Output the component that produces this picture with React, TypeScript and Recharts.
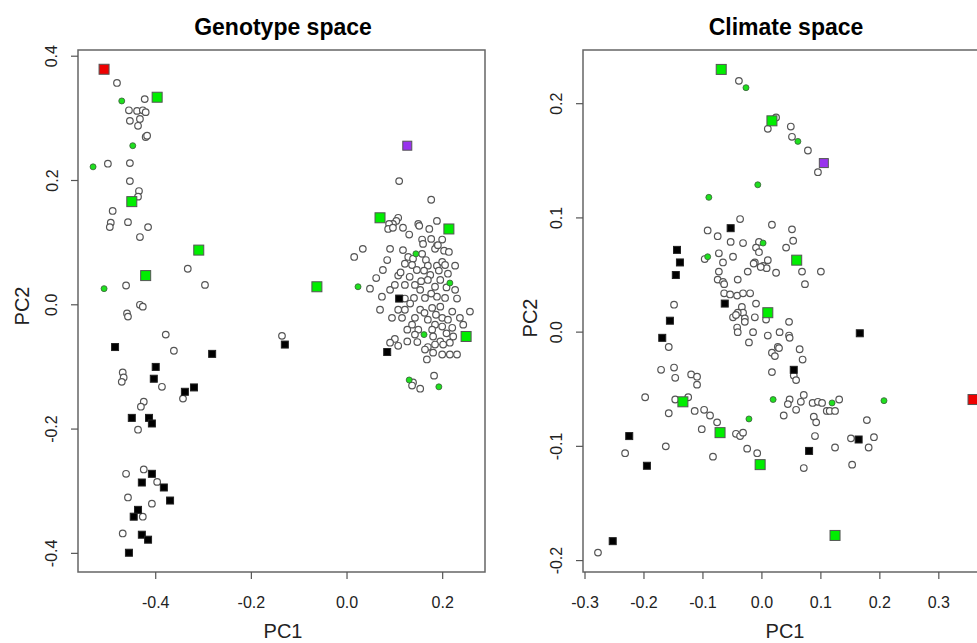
import React from "react";
import { ScatterChart, Scatter, XAxis, YAxis, ReferenceArea } from "recharts";

type P = [number, number];

// Genotype space (left panel)
const genoCircles: P[] = [
  [-0.481, 0.357], [-0.423, 0.331], [-0.456, 0.313], [-0.439, 0.312], [-0.427, 0.313], [-0.421, 0.31],
  [-0.454, 0.296], [-0.433, 0.299], [-0.437, 0.288], [-0.421, 0.27], [-0.418, 0.272], [-0.5, 0.227],
  [-0.454, 0.228], [-0.454, 0.199], [-0.435, 0.183], [-0.437, 0.174], [-0.49, 0.151], [-0.494, 0.132],
  [-0.496, 0.125], [-0.458, 0.133], [-0.416, 0.125], [-0.433, 0.109], [-0.333, 0.058], [-0.297, 0.032],
  [-0.462, 0.031], [-0.433, 0.0], [-0.427, -0.003], [-0.46, -0.014], [-0.458, -0.019], [-0.379, -0.048],
  [-0.362, -0.074], [-0.469, -0.109], [-0.467, -0.117], [-0.471, -0.124], [-0.387, -0.132], [-0.343, -0.151],
  [-0.425, -0.156], [-0.431, -0.164], [-0.437, -0.201], [-0.462, -0.272], [-0.425, -0.265], [-0.397, -0.285],
  [-0.458, -0.31], [-0.408, -0.32], [-0.427, -0.341], [-0.469, -0.368],
  [0.109, 0.199], [0.176, 0.169], [0.015, 0.077], [0.033, 0.09], [-0.136, -0.05], [0.138, -0.125],
  [0.153, -0.135], [0.182, -0.114], [0.136, -0.13], [0.257, -0.011],
  [0.107, 0.14], [0.103, 0.135], [0.096, 0.13], [0.088, 0.13], [0.086, 0.122], [0.096, 0.124],
  [0.117, 0.124], [0.149, 0.13], [0.151, 0.127], [0.172, 0.122], [0.188, 0.135], [0.13, 0.113],
  [0.157, 0.105], [0.159, 0.098], [0.199, 0.105], [0.188, 0.095], [0.184, 0.09], [0.19, 0.096],
  [0.09, 0.09], [0.157, 0.082], [0.203, 0.087], [0.213, 0.085], [0.128, 0.077], [0.138, 0.074],
  [0.165, 0.072], [0.084, 0.072], [0.121, 0.066], [0.136, 0.064], [0.169, 0.063], [0.188, 0.063],
  [0.199, 0.069], [0.205, 0.064], [0.226, 0.063], [0.075, 0.056], [0.146, 0.056], [0.161, 0.055],
  [0.192, 0.055], [0.211, 0.05], [0.107, 0.047], [0.061, 0.043], [0.174, 0.048],
  [0.048, 0.026], [0.073, 0.013], [0.09, 0.024], [0.1, 0.032], [0.121, 0.032], [0.142, 0.032],
  [0.153, 0.024], [0.169, 0.04], [0.195, 0.04], [0.184, 0.029], [0.226, 0.024], [0.121, 0.01],
  [0.14, 0.011], [0.163, 0.011], [0.188, 0.013], [0.205, 0.011], [0.23, 0.01], [0.069, -0.008],
  [0.107, -0.008], [0.121, -0.008], [0.153, -0.008], [0.178, -0.005], [0.195, -0.003], [0.22, -0.011],
  [0.094, -0.021], [0.115, -0.021], [0.142, -0.021], [0.169, -0.024], [0.199, -0.021], [0.211, -0.024],
  [0.236, -0.021], [0.136, -0.032], [0.184, -0.032], [0.199, -0.035], [0.243, -0.032], [0.126, -0.04],
  [0.149, -0.04], [0.178, -0.04], [0.22, -0.037], [0.142, -0.048], [0.18, -0.051], [0.195, -0.059],
  [0.222, -0.051], [0.1, -0.055], [0.09, -0.061], [0.107, -0.066], [0.126, -0.059], [0.169, -0.068],
  [0.184, -0.064], [0.201, -0.064], [0.215, -0.061], [0.163, -0.072], [0.18, -0.077], [0.199, -0.08],
  [0.215, -0.08], [0.23, -0.08], [0.167, -0.088],
  [0.112, 0.052], [0.131, 0.045], [0.155, 0.038], [0.176, 0.018], [0.132, 0.002], [0.162, -0.013],
  [0.186, -0.016], [0.208, 0.028], [0.117, 0.088], [0.176, 0.106], [0.147, -0.06], [0.208, -0.046],
];
const genoGreenDots: P[] = [
  [-0.471, 0.328], [-0.448, 0.256], [-0.531, 0.222], [-0.508, 0.026], [0.023, 0.029],
  [0.144, 0.082], [0.215, 0.035], [0.161, -0.048], [0.13, -0.121], [0.192, -0.132],
];
const genoGreenSquares: P[] = [
  [-0.397, 0.334], [-0.45, 0.166], [-0.31, 0.088], [-0.421, 0.047],
  [0.069, 0.14], [0.213, 0.122], [-0.063, 0.029], [0.249, -0.051],
];
const genoBlackSquares: P[] = [
  [-0.485, -0.068], [-0.282, -0.079], [-0.4, -0.1], [-0.404, -0.119], [-0.32, -0.133], [-0.339, -0.14],
  [-0.45, -0.182], [-0.414, -0.182], [-0.408, -0.191], [-0.408, -0.272], [-0.429, -0.286], [-0.383, -0.294],
  [-0.37, -0.315], [-0.437, -0.33], [-0.446, -0.341], [-0.429, -0.37], [-0.416, -0.378], [-0.456, -0.399],
  [-0.13, -0.064], [0.084, -0.076], [0.109, 0.01],
];
const genoRed: P[] = [[-0.508, 0.379]];
const genoPurple: P[] = [[0.126, 0.256]];

// Climate space (right panel)
const climCircles: P[] = [
  [-0.039, 0.22], [-0.037, 0.099], [-0.092, 0.089], [-0.075, 0.084], [-0.053, 0.079], [-0.032, 0.078],
  [-0.097, 0.064], [-0.073, 0.069], [-0.049, 0.066], [-0.066, 0.061], [-0.073, 0.053], [-0.024, 0.053],
  [-0.041, 0.046], [-0.075, 0.046], [-0.066, 0.044], [-0.012, 0.061],
  [0.024, 0.188], [0.01, 0.178], [0.049, 0.18], [0.051, 0.171], [0.078, 0.159], [0.095, 0.14],
  [0.017, 0.094], [0.051, 0.09], [0.053, 0.08], [0.041, 0.074], [-0.005, 0.079], [-0.01, 0.074],
  [-0.005, 0.07], [-0.014, 0.06], [0.01, 0.063], [0.002, 0.058], [0.008, 0.056], [-0.002, 0.057],
  [0.024, 0.052], [0.068, 0.053], [0.1, 0.053], [0.073, 0.042],
  [-0.064, 0.042], [-0.064, 0.034], [-0.054, 0.033], [-0.042, 0.032], [-0.032, 0.034], [-0.02, 0.034],
  [-0.01, 0.025], [-0.034, 0.022], [-0.032, 0.017], [-0.041, 0.017], [-0.049, 0.013], [-0.044, 0.015],
  [-0.029, 0.012], [-0.012, 0.013], [0.007, 0.011], [0.046, 0.009], [-0.042, 0.004],
  [-0.149, 0.024], [-0.029, 0.009], [-0.041, 0.0], [-0.015, 0.0], [-0.022, -0.009], [-0.158, -0.013],
  [-0.149, -0.031], [-0.171, -0.033], [-0.147, -0.04], [-0.12, -0.037], [-0.11, -0.039], [-0.11, -0.046],
  [-0.198, -0.057], [-0.147, -0.059], [-0.125, -0.057], [-0.158, -0.071], [-0.114, -0.069], [-0.098, -0.068],
  [-0.088, -0.073], [-0.076, -0.079], [-0.102, -0.085], [-0.044, -0.089], [-0.037, -0.091], [-0.032, -0.088],
  [-0.163, -0.1], [-0.232, -0.106], [-0.025, -0.102], [-0.008, -0.106], [-0.083, -0.109], [-0.278, -0.193],
  [0.01, -0.003], [0.03, 0.0], [0.046, -0.003], [0.047, -0.005], [0.064, -0.015], [0.017, -0.018],
  [0.022, -0.021], [0.027, -0.013], [0.029, -0.014], [0.069, -0.024], [0.017, -0.035], [0.054, -0.038],
  [0.058, -0.042], [0.047, -0.059], [0.044, -0.063], [0.066, -0.061], [0.071, -0.055], [0.037, -0.073],
  [0.058, -0.068], [0.086, -0.062], [0.095, -0.061], [0.102, -0.062], [0.131, -0.059], [0.11, -0.069],
  [0.115, -0.069], [0.124, -0.069], [0.088, -0.074], [0.092, -0.079], [0.178, -0.077], [0.09, -0.091],
  [0.151, -0.093], [0.19, -0.092], [0.181, -0.101], [0.124, -0.101], [0.071, -0.119], [0.153, -0.116],
];
const climGreenDots: P[] = [
  [-0.027, 0.214], [0.061, 0.167], [-0.007, 0.129], [-0.09, 0.118], [0.002, 0.078],
  [-0.092, 0.066], [-0.022, -0.076], [0.019, -0.059], [0.119, -0.062], [0.207, -0.06],
];
const climGreenSquares: P[] = [
  [-0.069, 0.23], [0.017, 0.185], [0.059, 0.063], [0.01, 0.017],
  [-0.134, -0.061], [-0.071, -0.088], [-0.003, -0.116], [0.124, -0.178],
];
const climBlackSquares: P[] = [
  [-0.053, 0.091], [-0.144, 0.072], [-0.139, 0.061], [-0.146, 0.05], [-0.063, 0.025], [-0.156, 0.01],
  [-0.169, -0.005], [-0.225, -0.091], [-0.195, -0.117], [-0.253, -0.183], [0.166, -0.001], [0.054, -0.033],
  [0.164, -0.094], [0.08, -0.104],
];
const climRed: P[] = [[0.358, -0.059]];
const climPurple: P[] = [[0.105, 0.148]];

const genoXTicks = [-0.4, -0.2, 0, 0.2];
const genoYTicks = [-0.4, -0.2, 0, 0.2, 0.4];
const climXTicks = [-0.3, -0.2, -0.1, 0, 0.1, 0.2, 0.3];
const climYTicks = [-0.2, -0.1, 0, 0.1, 0.2];

const FONT = "'Liberation Sans', Arial, sans-serif";
const pts = (a: P[]) => a.map(([x, y]) => ({ x, y }));

const openCircle = (p: any) => (
  <circle cx={p.cx} cy={p.cy} r={3.3} fill="#fff" stroke="#555" strokeWidth={1.2} />
);
const greenDot = (p: any) => (
  <circle cx={p.cx} cy={p.cy} r={3} fill="#1ee01e" stroke="#3a5a3a" strokeWidth={0.8} />
);
const square = (size: number, fill: string, stroke: string) => (p: any) => (
  <rect
    x={p.cx - size / 2}
    y={p.cy - size / 2}
    width={size}
    height={size}
    fill={fill}
    stroke={stroke}
    strokeWidth={1}
  />
);

const XTick = ({ x, y, payload }: any) => (
  <text x={x} y={y} dy="0.71em" textAnchor="middle" fontSize={16} fontFamily={FONT} fill="#222">
    {Number(payload.value).toFixed(1)}
  </text>
);
const YTick = ({ x, y, payload }: any) => (
  <text
    x={x}
    y={y}
    transform={`rotate(-90 ${x} ${y})`}
    textAnchor="middle"
    dominantBaseline="central"
    fontSize={16}
    fontFamily={FONT}
    fill="#222"
  >
    {Number(payload.value).toFixed(1)}
  </text>
);

interface PanelProps {
  left: number;
  margin: { top: number; right: number; bottom: number; left: number };
  xDomain: [number, number];
  yDomain: [number, number];
  xTicks: number[];
  yTicks: number[];
  circles: P[];
  greenDots: P[];
  greenSquares: P[];
  blackSquares: P[];
  red: P[];
  purple: P[];
}

function Panel(props: PanelProps) {
  const { xDomain, yDomain } = props;
  return (
    <div style={{ position: "absolute", left: props.left, top: 0 }}>
      <ScatterChart width={500} height={643} margin={props.margin}>
        <XAxis
          type="number"
          dataKey="x"
          domain={xDomain}
          ticks={props.xTicks}
          allowDataOverflow
          height={50}
          tickSize={7}
          tickMargin={18}
          axisLine={false}
          tickLine={{ stroke: "#555", strokeWidth: 1.2 }}
          tick={<XTick />}
        />
        <YAxis
          type="number"
          dataKey="y"
          domain={yDomain}
          ticks={props.yTicks}
          allowDataOverflow
          width={40}
          tickSize={7}
          tickMargin={19}
          axisLine={false}
          tickLine={{ stroke: "#555", strokeWidth: 1.2 }}
          tick={<YTick />}
        />
        <ReferenceArea
          x1={xDomain[0]}
          x2={xDomain[1]}
          y1={yDomain[0]}
          y2={yDomain[1]}
          fill="none"
          stroke="#666"
          strokeWidth={1.5}
          ifOverflow="visible"
        />
        <Scatter data={pts(props.circles)} shape={openCircle} isAnimationActive={false} />
        <Scatter data={pts(props.greenDots)} shape={greenDot} isAnimationActive={false} />
        <Scatter data={pts(props.blackSquares)} shape={square(7, "#000", "#222")} isAnimationActive={false} />
        <Scatter data={pts(props.greenSquares)} shape={square(10, "#00ee00", "#555")} isAnimationActive={false} />
        <Scatter data={pts(props.purple)} shape={square(9, "#9933ee", "#555")} isAnimationActive={false} />
        <Scatter data={pts(props.red)} shape={square(10, "#ee0000", "#555")} isAnimationActive={false} />
      </ScatterChart>
    </div>
  );
}

const label = (text: string, x: number, y: number, extra: React.CSSProperties = {}) => (
  <div
    style={{
      position: "absolute",
      left: x,
      top: y,
      transform: "translate(-50%, -50%)",
      fontFamily: FONT,
      fontSize: 20,
      color: "#222",
      whiteSpace: "nowrap",
      ...extra,
    }}
  >
    {text}
  </div>
);

export default function App() {
  return (
    <div
      style={{
        position: "absolute",
        left: 0,
        top: 0,
        width: 977,
        height: 643,
        overflow: "hidden",
        background: "#fff",
      }}
    >
      <Panel
        left={0}
        margin={{ top: 50, right: 15, bottom: 21, left: 38 }}
        xDomain={[-0.5625, 0.2885]}
        yDomain={[-0.43, 0.41]}
        xTicks={genoXTicks}
        yTicks={genoYTicks}
        circles={genoCircles}
        greenDots={genoGreenDots}
        greenSquares={genoGreenSquares}
        blackSquares={genoBlackSquares}
        red={genoRed}
        purple={genoPurple}
      />
      <Panel
        left={500}
        margin={{ top: 50, right: 12, bottom: 21, left: 43 }}
        xDomain={[-0.3034, 0.3834]}
        yDomain={[-0.21, 0.247]}
        xTicks={climXTicks}
        yTicks={climYTicks}
        circles={climCircles}
        greenDots={climGreenDots}
        greenSquares={climGreenSquares}
        blackSquares={climBlackSquares}
        red={climRed}
        purple={climPurple}
      />
      {label("Genotype space", 283, 27, { fontWeight: "bold", fontSize: 23, color: "#000" })}
      {label("Climate space", 786, 27, { fontWeight: "bold", fontSize: 23, color: "#000" })}
      {label("PC1", 283, 631)}
      {label("PC1", 785, 631)}
      {label("PC2", 22, 306, { transform: "translate(-50%, -50%) rotate(-90deg)" })}
      {label("PC2", 530, 318, { transform: "translate(-50%, -50%) rotate(-90deg)" })}
    </div>
  );
}
